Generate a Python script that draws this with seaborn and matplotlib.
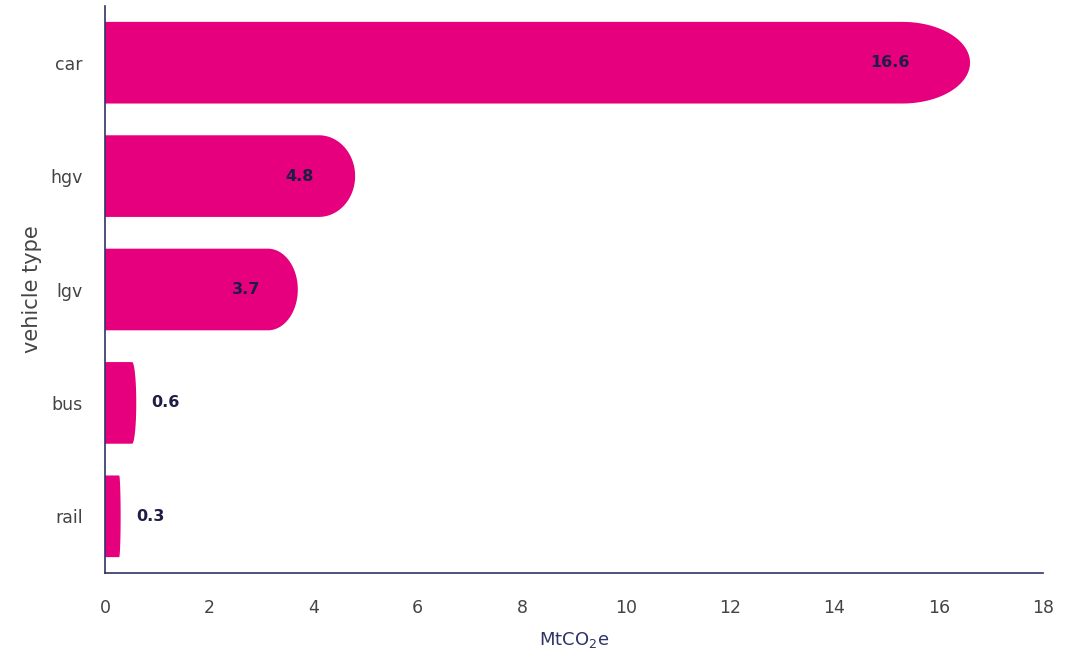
import matplotlib
matplotlib.use("Agg")
import matplotlib.pyplot as plt
from matplotlib.path import Path
from matplotlib.patches import PathPatch
import numpy as np
import pandas as pd
import seaborn as sns

# Emissions by vehicle type
vehicle_types = ["car", "hgv", "lgv", "bus", "rail"]
emissions = [16.6, 4.8, 3.7, 0.6, 0.3]
x_ticks = [0, 2, 4, 6, 8, 10, 12, 14, 16, 18]

BAR_COLOR = "#e6007e"
AXIS_COLOR = "#2f3366"
TEXT_COLOR = "#444444"
LABEL_COLOR = "#1d1d45"

sns.set_theme(style="white")
plt.rcParams["font.family"] = ["DejaVu Sans"]

df = pd.DataFrame({"vehicle type": vehicle_types, "MtCO2e": emissions})

fig = plt.figure(figsize=(10.79, 6.5), dpi=100)
ax = fig.add_axes([105 / 1079, 77 / 650, (1043 - 105) / 1079, (573 - 6) / 650])

sns.barplot(data=df, y="vehicle type", x="MtCO2e", orient="h",
            color=BAR_COLOR, width=0.72, saturation=1, ax=ax)

ax.set_xlim(0, 18)
ax.set_ylim(4.5, -0.5)

# pixels per data unit along x
px_per_unit = ax.get_window_extent().width / 18.0


def rounded_bar_path(x0, y0, w, h, rx):
    """Bar with a square left end and a half-elliptical right end."""
    rx = min(rx, w)
    xs = x0 + w - rx
    cy = y0 + h / 2
    ry = h / 2
    t = np.linspace(-np.pi / 2, np.pi / 2, 80)
    ex = xs + rx * np.cos(t)
    ey = cy + ry * np.sin(t)
    verts = [(x0, y0)] + list(zip(ex, ey)) + [(x0, y0 + h), (x0, y0)]
    codes = [Path.MOVETO] + [Path.LINETO] * (len(verts) - 2) + [Path.CLOSEPOLY]
    return Path(verts, codes)


for patch, val in zip(ax.patches, emissions):
    x0, y0 = patch.get_x(), patch.get_y()
    w, h = patch.get_width(), patch.get_height()
    w_px = w * px_per_unit
    # end rounding: nearly flat on short bars, saturating on long ones
    r_px = w_px / (w_px / 100.0 + 4.0 + 100.0 / w_px)
    patch.set_visible(False)
    ax.add_patch(PathPatch(rounded_bar_path(x0, y0, w, h, r_px / px_per_unit),
                           facecolor=BAR_COLOR, edgecolor="none", zorder=2))
    cy = y0 + h / 2
    if val > 2:
        off = -(0.6 * r_px + 20) * 72 / 100
        ax.annotate(f"{val}", (val, cy), xytext=(off, 0), textcoords="offset points",
                    ha="right", va="center", fontsize=11.5, fontweight="bold",
                    color=LABEL_COLOR, zorder=3)
    else:
        ax.annotate(f"{val}", (val, cy), xytext=(11, 0), textcoords="offset points",
                    ha="left", va="center", fontsize=11.5, fontweight="bold",
                    color=LABEL_COLOR, zorder=3)

ax.set_xticks(x_ticks)
ax.set_xticklabels([str(t) for t in x_ticks])
ax.tick_params(axis="both", length=0, labelsize=12.5, labelcolor=TEXT_COLOR)
ax.tick_params(axis="x", pad=19)
ax.tick_params(axis="y", pad=16)

for side in ["top", "right"]:
    ax.spines[side].set_visible(False)
for side in ["left", "bottom"]:
    ax.spines[side].set_color(AXIS_COLOR)
    ax.spines[side].set_linewidth(1.2)

ax.set_xlabel("MtCO$_2$e", fontsize=13, color=AXIS_COLOR, labelpad=9)
ax.set_ylabel("vehicle type", fontsize=15, color=TEXT_COLOR, labelpad=6)

fig.savefig("out.png", dpi=100)
